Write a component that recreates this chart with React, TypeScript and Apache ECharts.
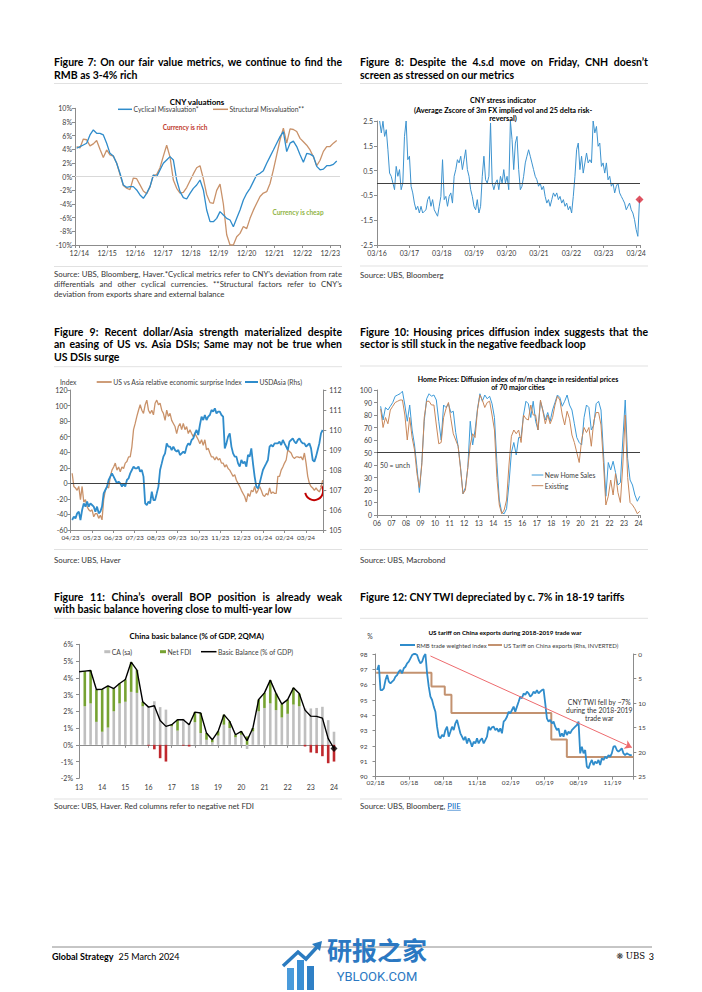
import React, { useEffect, useRef } from 'react';
import * as echarts from 'echarts';

const FAMILY = 'Lato, "Liberation Sans", Arial, sans-serif';
const BLACK = '#000000';
const TXT = '#333333';
const AXC = '#404040';
const LINEC = '#8C8C8C';
const SEP = '#D9D9D9';
const BLUE = '#2F8CCB';
const TAN = '#C9926A';

// ---------------- Figure 7: CNY valuations (years after Dec-2014) ----------------
const fig7TickLabels = ['12/14', '12/15', '12/16', '12/17', '12/18', '12/19', '12/20', '12/21', '12/22', '12/23'];
const fig7StartYear = -0.096;
const fig7StepYear = 0.1196;
const fig7Cyclical = [
  4.15, 4.39, 4.63, 4.88, 6.1, 6.83, 6.34, 6.34, 6.1, 4.88,
  3.41, 3.02, 1.95, 0.49, -1.22, -1.56, -1.46, -1.46, -1.95, -2.68,
  -3.17, -2.44, -1.46, 0.24, 0.0, 0.98, 1.95, 2.44, 2.93, 2.44,
  -0.49, -2.2, -3.07, -3.27, -2.44, -1.71, -1.22, -0.49, -1.95, -4.88,
  -6.59, -6.59, -6.1, -5.12, -5.61, -6.1, -6.34, -7.32, -6.1, -4.88,
  -3.41, -2.44, -1.71, -0.73, 0.24, 0.49, 0.88, 1.95, 2.93, 3.9,
  4.88, 5.85, 6.59, 3.66, 4.9, 5.2, 4.4, 3.2, 2.1, 3.4,
  3.3, 3.0, 1.5, 1.0, 1.1, 1.6, 1.6, 1.8, 2.3,
];
const fig7Structural = [
  4.39, 4.2, 5.5, 5.4, 4.5, 4.8, 5.3, 4.0, 2.8, 3.9,
  3.2, 3.0, 2.0, 0.3, -1.3, -1.7, -1.9, -0.2, -0.3, -1.2,
  -2.1, -2.5, -1.5, 0.2, 0.3, 1.3, 3.0, 4.6, 2.9, -0.5,
  -1.7, -2.4, -2.3, -1.6, -0.6, 0.4, 1.3, 1.6, -0.3, -2.6,
  -3.8, -3.9, -2.0, -1.1, -4.0, -8.5, -10, -10, -8.8, -8.3,
  -7.3, -7.6, -6.1, -4.9, -3.9, -2.9, -2.4, -2.2, -1.0, 1.0,
  3.2, 5.4, 7.1, 4.9, 7.0, 6.9, 6.6, 5.6, 5.1, 4.6,
  3.9, 2.9, 1.6, 2.4, 3.7, 4.4, 4.4, 4.9, 5.3,
];

// ---------------- Figure 8: CNY stress indicator (years after Mar-2016) ----------------
const fig8TickLabels = ['03/16', '03/17', '03/18', '03/19', '03/20', '03/21', '03/22', '03/23', '03/24'];
const fig8StartYear = 0.0817;
const fig8StepYear = 0.0511;
const fig8Stress = [
  2.5, 2.02, 2.49, 1.88, 2.15, 1.34, 0.4, 0.27, 0, -0.27,
  0.67, 0.27, 0.54, -0.27, 0, 1.88, 2.5, 0.94, 1.08, -0.13,
  -0.4, -0.81, -1.08, -0.94, -1.21, -0.94, -1.21, -1.14, -1.08, -0.67,
  -0.54, -0.94, -0.67, -1.08, -1.21, -1.34, -0.94, -0.54, 0.94, -0.67,
  -0.54, -0.94, -0.54, -0.4, -0.81, 0.27, 0.54, 0.94, 0.81, 1.08,
  0.54, 0.94, 1.34, 0.54, 0.27, -0.27, -0.54, -0.94, -1.08, -0.67,
  -1.21, -0.94, 0.27, 1.08, 0.13, 0, 0.27, 2.42, 0, -0.27,
  0, 0.13, -0.27, 0.27, 0, 0.54, 0, 0.27, -0.27, 2.5,
  1.75, 0.54, 1.61, 1.88, 0.54, -0.27, -0.13, 0.27, 0.81, 1.08,
  1.34, 1.08, 0.81, 0.54, 0.27, 0.13, -0.13, 0, -0.27, -0.13,
  -0.54, -0.81, -0.67, -0.94, -0.67, -0.4, -0.54, -0.4, -0.67, -0.54,
  -0.81, -0.67, -0.94, -0.81, -1.08, -0.94, -1.21, -0.54, 0.27, 1.34,
  1.61, 0.54, 1.08, 0.4, 0.81, 1.21, 0.81, 0.94, 0.81, 2.5,
  2.02, 2.28, 1.48, 1.61, 0.67, 0.81, 0.4, 0.81, 0.13, 0.27,
  -0.13, 0, -0.4, -0.13, 0, -0.4, -0.54, -0.67, -0.81, -1.08,
  -0.94, -0.81, -1.08, -1.21, -1.48, -1.88, -2.15, -0.67,
];

// ---------------- Figure 9: surprise index vs USDAsia (months after Apr-2023) ----------------
const fig9TickLabels = ['04/23', '05/23', '06/23', '07/23', '08/23', '09/23', '10/23', '11/23', '12/23', '01/24', '02/24', '03/24'];
const fig9StartMonth = 0.0775;
const fig9StepMonth = 0.0775;
const fig9Surprise = [
  13, -4, -6, -9, -4, -21, -4, -24, -21, -30,
  -34, -36, -34, -43, -39, -39, -45, -41, -47, -21,
  -9, -4, -6, 9, 17, 21, 26, 17, 21, 15,
  21, 19, 26, 28, 34, 34, 47, 69, 77, 86,
  94, 101, 94, 90, 101, 107, 94, 90, 94, 88,
  103, 107, 101, 103, 94, 90, 81, 94, 86, 90,
  81, 77, 73, 64, 73, 77, 69, 77, 69, 73,
  64, 69, 64, 60, 64, 60, 56, 51, 56, 49,
  56, 43, 45, 39, 34, 34, 30, 34, 30, 32,
  26, 26, 21, 24, 19, 17, 13, 9, 11, 4,
  0, -4, -9, -13, -17, -24, -13, -17, -9, -11,
  -4, -13, -9, -4, -9, -15, -17, -13, -15, -6,
  -13, -11, -13, -13, 9, 9, 17, 21, 26, 30,
  43, 41, 39, 34, 32, 34, 34, 33, 34, 30,
  39, 26, 9, 0, -4, -6, -9, -6, -9, -11,
  -6, 4,
];
const fig9UsdAsia = [
  105.5, 105.67, 105.58, 105.83, 105.92, 105.5, 106, 106.33, 106.17, 106.42,
  106.17, 106.33, 106.25, 106.17, 105.92, 106.17, 105.83, 105.92, 106.17, 106.83,
  107, 107.17, 107.5, 107.67, 107.83, 107.67, 107.5, 107.33, 107.42, 107.33,
  107.17, 107.33, 107.17, 107.5, 107.58, 107.83, 108, 108.17, 108.08, 108.08,
  108.17, 107.92, 108, 107.67, 106.33, 106.25, 106.42, 106.33, 106.92, 106.5,
  106.5, 106.83, 107.17, 108, 108.33, 108.67, 108.83, 109.33, 109.17, 109.17,
  109, 109.17, 109, 108.92, 109, 108.75, 108.83, 108.92, 108.83, 109.17,
  109.33, 109.25, 109.5, 109.58, 109.83, 110, 109.75, 110.25, 110.67, 110.5,
  110.75, 110.5, 110.67, 110.75, 111, 110.92, 111.08, 110.83, 110.92, 110.92,
  110.75, 110.67, 109.08, 109.33, 109.67, 109.83, 109.17, 108.83, 108.67, 108.67,
  108.33, 108.17, 108.5, 108.33, 108.42, 108.17, 108.75, 108.67, 109.08, 108.33,
  107.67, 107.17, 107.08, 107.33, 107.67, 108, 108.17, 108.33, 108.5, 109.17,
  109.25, 109.17, 109.33, 109.33, 109.33, 109.42, 109.25, 109.5, 109.33, 109.17,
  109, 109.42, 109.5, 109.58, 109.42, 109.33, 109.5, 109.58, 109.42, 109.33,
  109.33, 109.17, 109.25, 109.33, 109.08, 108.5, 108.42, 108.67, 109, 109.33,
  109.83, 110,
];
const fig9ArcCenter = [11.38, -10];

// ---------------- Figure 10: home price diffusion (years after Jan-2006) ----------------
const fig10TickLabels = ['06', '07', '08', '09', '10', '11', '12', '13', '14', '15', '16', '17', '18', '19', '20', '21', '22', '23', '24'];
const fig10StartYear = 0.25;
const fig10StepYear = 1 / 6;
const fig10NewHome = [
  87, 76, 86, 84, 87, 90, 95, 96, 97, 99, 88, 75,
  88, 68, 56, 38, 18, 42, 75, 93, 97, 95, 96, 92,
  75, 60, 88, 86, 89, 82, 83, 66, 55, 38, 17, 22,
  38, 75, 56, 68, 85, 97, 91, 96, 93, 95, 89, 78,
  42, 12, 2, 1, 5, 25, 50, 58, 48, 62, 62, 80,
  91, 89, 78, 91, 75, 68, 91, 84, 76, 82, 75, 84,
  90, 96, 94, 87, 91, 96, 88, 84, 73, 62, 58, 56,
  78, 88, 86, 68, 72, 89, 91, 84, 50, 15, 42, 36,
  43, 34, 24, 26, 60, 92, 45, 28, 24, 16, 11, 15,
];
const fig10Existing = [
  85, 70, 78, 73, 84, 87, 90, 91, 92, 92, 80, 60,
  78, 62, 52, 33, 22, 40, 78, 91, 91, 88, 88, 72,
  57, 58, 78, 85, 90, 77, 65, 60, 55, 37, 17, 20,
  38, 56, 65, 62, 84, 96, 92, 86, 90, 91, 80, 68,
  30, 8, 1, 4, 12, 40, 63, 68, 65, 68, 58, 80,
  77, 76, 88, 80, 80, 68, 92, 83, 73, 80, 73, 78,
  88, 95, 92, 80, 72, 83, 77, 64, 58, 50, 42, 60,
  70, 66, 70, 55, 75, 82, 82, 72, 42, 8, 15, 28,
  16, 33, 18, 10, 40, 80, 30, 10, 8, 5, 1, 3,
];

// ---------------- Figure 11: China basic balance (quarters 2012Q4 .. 2023Q4) ----------------
const fig11YearLabels = ['13', '14', '15', '16', '17', '18', '19', '20', '21', '22', '23', '24'];
const fig11CA = [
  null, 2.3, 2.47, 1.37, 0.78, 1.03, 2.0, 2.47, 2.57, 3.16, 3.1, 2.3, 2.3, 2.6, 2.25,
  2.1, 1.1, 0.85, 1.55, 1.3, 1.35, 0.7, 0.3, 0.15, 0.55, 1.2, 1.0, 0.45, 0.6, -0.25,
  0.8, 2.0, 2.2, 2.47, 2.07, 1.63, 1.85, 2.4, 2.3, 2.17, 2.17, 2.2, 2.27, 1.47, 0.78,
];
const fig11FDI = [
  null, 2.1, 1.97, 1.93, 2.54, 2.49, 1.36, 1.19, 1.33, 1.78, 1.36, 0.27, -0.05, -0.27, -0.8,
  -1.0, 0.1, 0.65, -0.05, -0.1, 0.6, 1.2, 0.4, 0.15, 0.25, 0.6, 0.4, 0.15, 0.2, 0.5,
  0.2, 0.7, 0.9, 1.39, 1.0, 0.8, 0.85, 1.0, 0.76, -0.1, -0.46, -0.5, -0.68, -1.1, -1.0,
];
const fig11Basic = [
  4.36, 4.4, 4.44, 3.3, 3.32, 3.52, 3.36, 3.66, 3.9, 4.94, 4.46, 2.57, 2.25, 2.33, 1.45,
  1.1, 1.2, 1.5, 1.5, 1.2, 1.95, 1.9, 0.7, 0.3, 0.8, 1.8, 1.4, 0.6, 0.8, 0.25,
  1.0, 2.7, 3.1, 3.86, 3.07, 2.43, 2.7, 3.4, 3.06, 2.07, 1.71, 1.7, 1.59, 0.37, -0.22,
];

// ---------------- Figure 12: CNY TWI vs US tariff (months after Feb-2018) ----------------
const fig12TickLabels = ['02/18', '05/18', '08/18', '11/18', '02/19', '05/19', '08/19', '11/19'];
const fig12StartMonth = 0.1475;
const fig12StepMonth = 0.1475;
const fig12Twi = [
  96.96, 97.28, 95.65, 95.65, 95.76, 96.3, 96.63, 96.2, 96.09, 96.2,
  96.3, 96.52, 96.63, 96.85, 96.96, 96.74, 97.07, 97.17, 97.39, 97.5,
  97.72, 97.93, 98.0, 98.0, 97.93, 97.61, 97.39, 97.5, 97.83, 98.0,
  96.74, 95.87, 95.22, 95.0, 94.57, 94.24, 93.26, 92.61, 92.5, 92.72,
  92.61, 93.04, 93.26, 92.61, 92.93, 93.26, 93.04, 93.48, 93.7, 93.26,
  92.83, 92.61, 92.39, 92.61, 92.17, 92.5, 92.28, 91.96, 92.28, 92.17,
  92.5, 92.17, 92.39, 92.5, 92.17, 92.39, 92.61, 93.26, 93.04, 93.22,
  93.26, 93.04, 93.15, 92.93, 93.15, 92.83, 93.59, 93.7, 93.91, 94.24,
  94.13, 94.35, 94.57, 94.24, 94.57, 94.89, 95.22, 95.11, 95.43, 95.33,
  95.54, 95.43, 95.22, 95.33, 95.54, 95.43, 95.65, 95.43, 95.54, 95.65,
  95.7, 94.78, 93.8, 93.59, 93.7, 93.48, 93.59, 93.26, 93.04, 93.15,
  92.61, 92.83, 92.61, 93.04, 92.72, 92.93, 92.83, 93.04, 93.15, 93.26,
  93.37, 93.59, 91.52, 91.96, 91.52, 91.74, 90.65, 90.54, 90.87, 91.09,
  90.76, 90.98, 90.87, 91.09, 90.76, 91.2, 91.09, 91.3, 91.2, 91.41,
  91.3, 91.52, 91.96, 92.0, 91.74, 91.63, 91.74, 91.85, 91.52, 91.41,
  91.52, 91.46, 91.41, 91.41,
];
const fig12TariffMonths = [0.06, 4.96, 6.14, 6.73, 15.58, 16.96, 22.85];
const fig12TariffRates = [3.8, 6.6, 8.3, 12.0, 17.4, 21.0, 21.0];
const fig12ArrowFrom = [4.87, 97.87];
const fig12ArrowTo = [22.72, 91.91];

// ---------------- helpers ----------------
const toXY = (vals: (number | null)[], start: number, step: number) =>
  vals.map((v, i) => [start + i * step, v]);

let measureCtx: CanvasRenderingContext2D | null = null;
function textW(s: string, size: number, weight: string = 'normal', family: string = FAMILY) {
  if (!measureCtx) measureCtx = document.createElement('canvas').getContext('2d');
  if (!measureCtx) return s.length * size * 0.5;
  measureCtx.font = `${weight} ${size}px ${family}`;
  return measureCtx.measureText(s).width;
}

type TO = { size?: number; weight?: string; color?: string; align?: string; family?: string };
function txt(text: string, x: number, y: number, o: TO = {}) {
  const align = o.align ?? 'left';
  return {
    type: 'text',
    x,
    y,
    silent: true,
    style: {
      text,
      fill: o.color ?? TXT,
      fontSize: o.size ?? 8,
      fontWeight: o.weight ?? 'normal',
      fontFamily: o.family ?? FAMILY,
      textAlign: align,
      textVerticalAlign: 'middle',
      align,
      verticalAlign: 'middle',
    },
  };
}
function justified(line: string, x: number, y: number, width: number, o: TO) {
  const words = line.split(' ');
  const ws = words.map((w) => textW(w, o.size ?? 8, o.weight ?? 'normal'));
  const total = ws.reduce((a, b) => a + b, 0);
  const gap = words.length > 1 ? (width - total) / (words.length - 1) : 0;
  let cx = x;
  return words.map((w, i) => {
    const el = txt(w, cx, y, o);
    cx += ws[i] + gap;
    return el;
  });
}
function hline(x1: number, x2: number, y: number, color: string, w = 1) {
  return { type: 'line', silent: true, shape: { x1, y1: y, x2, y2: y }, style: { stroke: color, lineWidth: w } };
}
function legendLine(x: number, y: number, w: number, color: string, lw: number, label: string, size: number) {
  return [hline(x, x + w, y, color, lw), txt(label, x + w + 1.5, y, { size, color: AXC })];
}
function legendRect(x: number, y: number, w: number, color: string, label: string, size: number) {
  return [
    { type: 'rect', silent: true, shape: { x, y: y - 1.5, width: w, height: 3 }, style: { fill: color } },
    txt(label, x + w + 1.5, y, { size, color: AXC }),
  ];
}
function tickFmt(labels: string[], every = 1) {
  return (v: number) => {
    const r = Math.round(v);
    if (Math.abs(v - r) > 1e-6 || r % every !== 0) return '';
    return labels[r / every] ?? '';
  };
}
const lbl = (size = 7, margin = 4) => ({ color: AXC, fontSize: size, fontFamily: FAMILY, margin });
const axLine = { onZero: false, lineStyle: { color: LINEC, width: 1 } };
const axTick = { show: true, length: 3, lineStyle: { color: LINEC } };

function valX(gridIndex: number, min: number, max: number, fmt: any, extra: any = {}, size = 7) {
  return {
    type: 'value', gridIndex, min, max,
    axisLine: axLine, axisTick: axTick, splitLine: { show: false },
    axisLabel: { ...lbl(size, 4), formatter: fmt, showMinLabel: true, showMaxLabel: true },
    ...extra,
  };
}
function valY(gridIndex: number, min: number, max: number, interval: number, fmt: any, extra: any = {}) {
  return {
    type: 'value', gridIndex, min, max, interval,
    axisLine: { show: true, ...axLine }, axisTick: axTick, splitLine: { show: false },
    axisLabel: { ...lbl(7, 3), formatter: fmt },
    ...extra,
  };
}
const hMark = (value: number, color: string) => ({
  silent: true, symbol: 'none', label: { show: false },
  lineStyle: { color, width: 1, type: 'solid' },
  emphasis: { disabled: true },
  data: [{ yAxis: value }],
});

function buildGraphics() {
  const g: any[] = [];
  const T: TO = { size: 10.5, weight: 'bold', color: BLACK };
  const S: TO = { size: 7.8, color: TXT };
  const LX = 54, RX = 360, W = 288;

  // Figure 7
  g.push(...justified('Figure 7: On our fair value metrics, we continue to find the', LX, 62.3, W, T));
  g.push(txt('RMB as 3-4% rich', LX, 74.5, T));
  g.push(hline(LX, LX + W, 83.5, SEP, 0.8));
  g.push(txt('CNY valuations', 197, 101.7, { size: 8, weight: 'bold', color: BLACK, align: 'center' }));
  g.push(...legendLine(118, 109.3, 14, BLUE, 1.5, 'Cyclical Misvaluation*', 6.8));
  g.push(...legendLine(213, 109.3, 15, TAN, 1.5, 'Structural Misvaluation**', 6.8));
  g.push(txt('Currency is rich', 185, 127, { size: 6.5, weight: 'bold', color: '#C0392B', align: 'center' }));
  g.push(txt('Currency is cheap', 298, 212, { size: 6.5, weight: 'bold', color: '#8FB443', align: 'center' }));
  g.push(hline(LX, LX + W, 266.5, SEP, 0.8));
  g.push(...justified('Source: UBS, Bloomberg, Haver.*Cyclical metrics refer to CNY\u2019s deviation from rate', LX, 274.3, W, S));
  g.push(...justified('differentials and other cyclical currencies. **Structural factors refer to CNY\u2019s', LX, 284.3, W, S));
  g.push(txt('deviation from exports share and external balance', LX, 294.3, S));

  // Figure 8
  g.push(...justified('Figure 8: Despite the 4.s.d move on Friday, CNH doesn\u2019t', RX, 62.3, W, T));
  g.push(txt('screen as stressed on our metrics', RX, 74.5, T));
  g.push(hline(RX, RX + W, 83.5, SEP, 0.8));
  const CT8: TO = { size: 7.3, weight: 'bold', color: BLACK, align: 'center' };
  g.push(txt('CNY stress indicator', 503, 100.7, CT8));
  g.push(txt('(Average Zscore of 3m FX implied vol and 25 delta risk-', 503, 110.8, CT8));
  g.push(txt('reversal)', 503, 118.3, CT8));
  g.push(hline(RX, RX + W, 266, SEP, 0.8));
  g.push(txt('Source: UBS, Bloomberg', RX, 275, S));

  // Figure 9
  g.push(...justified('Figure 9: Recent dollar/Asia strength materialized despite', LX, 331.7, W, T));
  g.push(...justified('an easing of US vs. Asia DSIs; Same may not be true when', LX, 344, W, T));
  g.push(txt('US DSIs surge', LX, 356.5, T));
  g.push(hline(LX, LX + W, 366.7, SEP, 0.8));
  g.push(txt('Index', 60, 381.7, { size: 6.8, color: AXC }));
  g.push(...legendLine(96.7, 382, 15, TAN, 1.8, 'US vs Asia relative economic surprise Index', 6.8));
  g.push(...legendLine(245, 382, 13, BLUE, 2, 'USDAsia (Rhs)', 6.8));
  g.push(hline(LX, LX + W, 549.5, SEP, 0.8));
  g.push(txt('Source: UBS, Haver', LX, 560, S));

  // Figure 10
  g.push(...justified('Figure 10: Housing prices diffusion index suggests that the', RX, 331.7, W, T));
  g.push(txt('sector is still stuck in the negative feedback loop', RX, 344, T));
  g.push(hline(RX, RX + W, 366, SEP, 0.8));
  const CT10: TO = { size: 7, weight: 'bold', color: BLACK, align: 'center' };
  g.push(txt('Home Prices: Diffusion index of m/m change in residential prices', 518, 378.7, CT10));
  g.push(txt('of 70 major cities', 518, 386.7, CT10));
  g.push(txt('50 = unch', 380, 465, { size: 6.8, color: AXC }));
  g.push(...legendLine(531.7, 475, 11.6, '#3C9AD8', 1, 'New Home Sales', 6.8));
  g.push(...legendLine(531.7, 485.7, 11.6, '#C8875A', 1, 'Existing', 6.8));
  g.push(hline(RX, RX + W, 549.5, SEP, 0.8));
  g.push(txt('Source: UBS, Macrobond', RX, 560, S));

  // Figure 11
  g.push(...justified('Figure 11: China\u2019s overall BOP position is already weak', LX, 596.7, W, T));
  g.push(txt('with basic balance hovering close to multi-year low', LX, 609, T));
  g.push(hline(LX, LX + W, 618.3, SEP, 0.8));
  g.push(txt('China basic balance (% of GDP, 2QMA)', 196.7, 635.7, { size: 7.8, weight: 'bold', color: BLACK, align: 'center' }));
  g.push(...legendRect(104.3, 651.7, 6, '#BFBFBF', 'CA (sa)', 6.8));
  g.push(...legendRect(160, 651.7, 6, '#76A232', 'Net FDI', 6.8));
  g.push(...legendLine(201, 651.7, 15.5, BLACK, 1.5, 'Basic Balance (% of GDP)', 6.8));
  g.push(hline(LX, LX + W, 799, SEP, 0.8));
  g.push(txt('Source: UBS, Haver. Red columns refer to negative net FDI', LX, 806, S));

  // Figure 12
  g.push(txt('Figure 12: CNY TWI depreciated by c. 7% in 18-19 tariffs', RX, 596.7, T));
  g.push(hline(RX, RX + W, 618.3, SEP, 0.8));
  g.push(txt('US tariff on China exports during 2018-2019 trade war', 505, 632.7, { size: 6.3, weight: 'bold', color: BLACK, align: 'center' }));
  g.push(txt('%', 370, 636, { size: 6.8, color: AXC, align: 'center' }));
  g.push(...legendLine(400, 645, 15, BLUE, 2, 'RMB trade weighted index', 6));
  g.push(...legendLine(488, 645, 14, '#C39270', 2, 'US Tariff on China exports (Rhs, INVERTED)', 6));
  const AN: TO = { size: 6.8, color: TXT, align: 'center' };
  g.push(txt('CNY TWI fell by ~7%', 599.3, 701.7, AN));
  g.push(txt('during the 2018-2019', 599.3, 709.8, AN));
  g.push(txt('trade war', 599.3, 717.6, AN));
  g.push(hline(RX, RX + W, 799, SEP, 0.8));
  const srcPre = 'Source: UBS, Bloomberg, ';
  g.push(txt(srcPre, RX, 806, S));
  const px = RX + textW(srcPre, 7.8);
  g.push(txt('PIIE', px, 806, { size: 7.8, color: '#0563C1' }));
  g.push(hline(px, px + textW('PIIE', 7.8), 810.3, '#0563C1', 0.6));

  // Footer
  g.push(hline(52, 652, 947, '#8C8C8C', 1));
  g.push(txt('Global Strategy', 52, 956, { size: 9, weight: 'bold', color: BLACK }));
  g.push(txt('25 March 2024', 52 + textW('Global Strategy', 9, 'bold') + 5, 956, { size: 9, color: BLACK }));
  const ubsFam = '"DejaVu Serif", "Liberation Serif", serif';
  const ubsRight = 645;
  const ubsW = textW('UBS', 8.5, 'normal', ubsFam);
  g.push(txt('\u274B', ubsRight - ubsW - 6, 956, { size: 8.5, color: '#333333', align: 'center', family: '"DejaVu Sans"' }));
  g.push(txt('UBS', ubsRight, 956, { size: 8.5, color: BLACK, align: 'right', family: ubsFam }));
  g.push(txt('3', 654, 956, { size: 9, color: BLACK, align: 'right' }));

  // Watermark (ybLook)
  g.push({ type: 'rect', silent: true, shape: { x: 287, y: 968, width: 7, height: 22 }, style: { fill: '#4A9BDB' } });
  g.push({ type: 'rect', silent: true, shape: { x: 297, y: 960, width: 7, height: 30 }, style: { fill: '#3B8FD4' } });
  g.push({ type: 'rect', silent: true, shape: { x: 307, y: 966, width: 7, height: 24 }, style: { fill: '#2F80C6' } });
  g.push({ type: 'polyline', silent: true, shape: { points: [[283, 966], [298, 952], [306, 959], [318, 946]] }, style: { stroke: '#2B7BC0', lineWidth: 3.5, fill: 'none' } });
  g.push({ type: 'polygon', silent: true, shape: { points: [[322, 941], [312, 944], [320, 951]] }, style: { fill: '#2B7BC0' } });
  g.push(txt('\u7814\u62a5\u4e4b\u5bb6', 377, 949, { size: 25, weight: 'bold', color: '#2B78C2', align: 'center', family: '"Noto Sans CJK SC"' }));
  g.push(txt('YBLOOK.COM', 377, 976, { size: 13, color: '#2B78C2', align: 'center', family: 'Roboto, "DejaVu Sans", sans-serif' }));
  return g;
}

function buildOption() {
  const fig11Quarters: string[] = [];
  for (let i = 0; i < fig11Basic.length; i++) {
    const q = ((i + 3) % 4) + 1;
    const y = 2012 + Math.floor((i + 3) / 4);
    fig11Quarters.push(`${y}Q${q}`);
  }
  const fig11Pos = fig11FDI.map((v) => (v !== null && v > 0 ? v : null));
  const fig11Neg = fig11FDI.map((v) => (v !== null && v < 0 ? v : null));
  const fig8XY = toXY(fig8Stress, fig8StartYear, fig8StepYear);
  const lastN = fig11Basic.length - 1;

  return {
    animation: false,
    backgroundColor: '#ffffff',
    textStyle: { fontFamily: FAMILY },
    grid: [
      { left: 75, top: 108.3, width: 265, height: 136.7 },
      { left: 377, top: 121, width: 263, height: 124 },
      { left: 70.5, top: 390, width: 252.8, height: 140 },
      { left: 377, top: 390, width: 263, height: 125 },
      { left: 79, top: 644.3, width: 255, height: 134 },
      { left: 375.5, top: 654, width: 257.8, height: 122.7 },
    ],
    xAxis: [
      valX(0, -0.155, 9.35, tickFmt(fig7TickLabels), { splitNumber: 10 }),
      valX(1, 0, 8.12, tickFmt(fig8TickLabels), { interval: 1 }),
      valX(2, 0, 11.81, tickFmt(fig9TickLabels), { interval: 1 }, 6.5),
      valX(3, 0, 18.1, tickFmt(fig10TickLabels), { interval: 1 }),
      {
        type: 'category', gridIndex: 4, data: fig11Quarters, boundaryGap: false, position: 'bottom',
        axisLine: { show: false, onZero: false }, axisTick: { show: false },
        axisLabel: { ...lbl(7, 5), interval: 3, formatter: (_v: string, i: number) => fig11YearLabels[i / 4] ?? '' },
      },
      {
        type: 'category', gridIndex: 4, data: fig11Quarters, boundaryGap: false, position: 'bottom',
        axisLine: { show: true, onZero: true, lineStyle: { color: LINEC, width: 1 } },
        axisTick: { show: true, interval: 3, length: 3, lineStyle: { color: LINEC } },
        axisLabel: { show: false },
      },
      { ...valX(5, 0, 22.85, tickFmt(fig12TickLabels, 3), { interval: 3 }), axisLabel: { ...lbl(6.5, 2), formatter: tickFmt(fig12TickLabels, 3) } },
    ],
    yAxis: [
      valY(0, -10, 10, 2, (v: number) => `${v}%`),
      valY(1, -2.5, 2.5, 1, (v: number) => v.toFixed(1), { axisLabel: { ...lbl(7, 4), formatter: (v: number) => v.toFixed(1) } }),
      valY(2, -60, 120, 20, (v: number) => `${v}`),
      valY(2, 105, 112, 1, (v: number) => `${v}`, { position: 'right', axisLabel: { ...lbl(7, 6), formatter: (v: number) => `${v}` } }),
      valY(3, 0, 100, 10, (v: number) => `${v}`, { axisLabel: { ...lbl(7, 5), formatter: (v: number) => `${v}` } }),
      valY(4, -2, 6, 1, (v: number) => `${v}%`, { axisLabel: { ...lbl(7, 6), formatter: (v: number) => `${v}%` } }),
      valY(5, 90, 98, 1, (v: number) => `${v}`, { axisLabel: { ...lbl(6.5, 8), formatter: (v: number) => `${v}` } }),
      valY(5, 0, 25, 5, (v: number) => `${v}`, { position: 'right', inverse: true, axisLabel: { ...lbl(6.5, 5), formatter: (v: number) => `${v}` } }),
    ],
    series: [
      // Figure 7
      {
        type: 'line', name: 'Structural Misvaluation**', xAxisIndex: 0, yAxisIndex: 0,
        data: toXY(fig7Structural, fig7StartYear, fig7StepYear), showSymbol: false, symbol: 'none',
        lineStyle: { color: TAN, width: 1.3 }, itemStyle: { color: TAN },
        markLine: hMark(0, SEP), z: 2,
      },
      {
        type: 'line', name: 'Cyclical Misvaluation*', xAxisIndex: 0, yAxisIndex: 0,
        data: toXY(fig7Cyclical, fig7StartYear, fig7StepYear), showSymbol: false, symbol: 'none',
        lineStyle: { color: BLUE, width: 1.3 }, itemStyle: { color: BLUE }, z: 3,
      },
      // Figure 8
      {
        type: 'line', name: 'CNY stress indicator', xAxisIndex: 1, yAxisIndex: 1,
        data: fig8XY, showSymbol: false, symbol: 'none',
        lineStyle: { color: '#3D93CF', width: 1 }, itemStyle: { color: '#3D93CF' },
        markLine: hMark(0, '#404040'),
      },
      {
        type: 'scatter', name: 'Latest', xAxisIndex: 1, yAxisIndex: 1,
        data: [fig8XY[fig8XY.length - 1]], symbol: 'diamond', symbolSize: 8,
        itemStyle: { color: '#D62839' }, z: 5,
      },
      // Figure 9
      {
        type: 'line', name: 'US vs Asia relative economic surprise Index', xAxisIndex: 2, yAxisIndex: 2,
        data: toXY(fig9Surprise, fig9StartMonth, fig9StepMonth), showSymbol: false, symbol: 'none',
        lineStyle: { color: TAN, width: 1.3 }, itemStyle: { color: TAN },
        markLine: hMark(0, '#404040'),
      },
      {
        type: 'line', name: 'USDAsia (Rhs)', xAxisIndex: 2, yAxisIndex: 3,
        data: toXY(fig9UsdAsia, fig9StartMonth, fig9StepMonth), showSymbol: false, symbol: 'none',
        lineStyle: { color: BLUE, width: 1.8 }, itemStyle: { color: BLUE }, z: 3,
      },
      // Figure 10
      {
        type: 'line', name: 'New Home Sales', xAxisIndex: 3, yAxisIndex: 4,
        data: toXY(fig10NewHome, fig10StartYear, fig10StepYear), showSymbol: false, symbol: 'none',
        lineStyle: { color: '#3C9AD8', width: 1 }, itemStyle: { color: '#3C9AD8' },
        markLine: hMark(50, '#404040'),
      },
      {
        type: 'line', name: 'Existing', xAxisIndex: 3, yAxisIndex: 4,
        data: toXY(fig10Existing, fig10StartYear, fig10StepYear), showSymbol: false, symbol: 'none',
        lineStyle: { color: '#C8875A', width: 1 }, itemStyle: { color: '#C8875A' },
      },
      // Figure 11
      {
        type: 'bar', name: 'CA (sa)', xAxisIndex: 4, yAxisIndex: 5, stack: 'bop',
        data: fig11CA, barWidth: 2.6, itemStyle: { color: '#BFBFBF' },
      },
      {
        type: 'bar', name: 'Net FDI', xAxisIndex: 4, yAxisIndex: 5, stack: 'bop',
        data: fig11Pos, barWidth: 2.6, itemStyle: { color: '#76A232' },
      },
      {
        type: 'bar', name: 'Net FDI (negative)', xAxisIndex: 4, yAxisIndex: 5, stack: 'bop',
        data: fig11Neg, barWidth: 2.6, itemStyle: { color: '#C0282D' },
      },
      {
        type: 'line', name: 'Basic Balance (% of GDP)', xAxisIndex: 4, yAxisIndex: 5,
        data: fig11Basic, showSymbol: false, symbol: 'none',
        lineStyle: { color: '#000000', width: 1.4 }, itemStyle: { color: '#000000' }, z: 4,
      },
      {
        type: 'scatter', name: 'Latest basic balance', xAxisIndex: 4, yAxisIndex: 5,
        data: [[lastN, fig11Basic[lastN]]], symbol: 'diamond', symbolSize: 7,
        itemStyle: { color: '#000000' }, z: 5,
      },
      // Figure 12
      {
        type: 'line', name: 'US Tariff on China exports (Rhs, INVERTED)', xAxisIndex: 6, yAxisIndex: 7,
        data: fig12TariffMonths.map((m, i) => [m, fig12TariffRates[i]]), step: 'end',
        showSymbol: false, symbol: 'none',
        lineStyle: { color: '#C39270', width: 2 }, itemStyle: { color: '#C39270' },
      },
      {
        type: 'line', name: 'RMB trade weighted index', xAxisIndex: 6, yAxisIndex: 6,
        data: toXY(fig12Twi, fig12StartMonth, fig12StepMonth), showSymbol: false, symbol: 'none',
        lineStyle: { color: BLUE, width: 1.8 }, itemStyle: { color: BLUE }, z: 3,
        markLine: {
          silent: true, symbol: ['none', 'arrow'], symbolSize: 7, label: { show: false },
          lineStyle: { color: '#EE6B6E', width: 1, type: 'solid' },
          emphasis: { disabled: true },
          data: [[{ coord: fig12ArrowFrom }, { coord: fig12ArrowTo }]],
        },
      },
    ],
    graphic: { elements: buildGraphics() },
  };
}

export default function App() {
  const ref = useRef<HTMLDivElement>(null);
  useEffect(() => {
    if (!ref.current) return;
    const chart = echarts.init(ref.current, null, { renderer: 'svg' });
    const option: any = buildOption();
    chart.setOption(option);
    const c = chart.convertToPixel({ xAxisIndex: 2, yAxisIndex: 2 } as any, fig9ArcCenter) as any;
    if (c && isFinite(c[0])) {
      option.graphic.elements.push({
        type: 'arc', silent: true,
        shape: { cx: c[0], cy: c[1], r: 9, startAngle: -0.7, endAngle: Math.PI - 0.2, clockwise: true },
        style: { stroke: '#C00000', lineWidth: 2, fill: 'none' },
      });
      chart.setOption(option, true);
    }
    return () => chart.dispose();
  }, []);
  return (
    <div
      ref={ref}
      style={{ position: 'absolute', left: 0, top: 0, width: 702, height: 992, background: '#ffffff' }}
    />
  );
}
